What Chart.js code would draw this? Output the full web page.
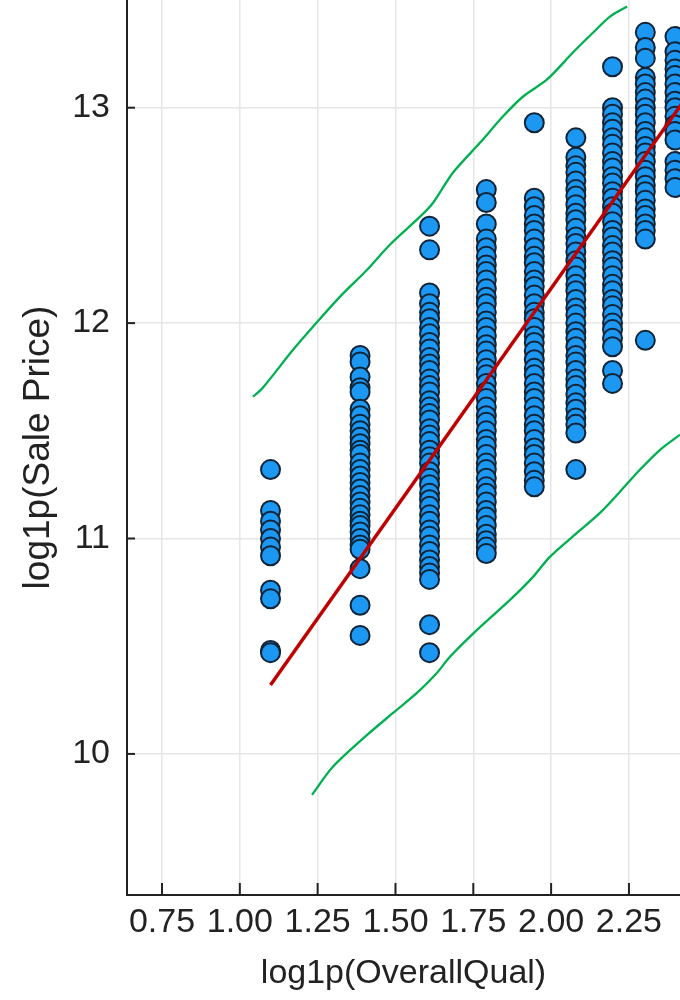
<!DOCTYPE html>
<html>
<head>
<meta charset="utf-8">
<script src="https://cdn.jsdelivr.net/npm/chart.js@4.4.0/dist/chart.umd.min.js"></script>
<style>
  body { margin: 0; background: #fff; }
  canvas { display: block; }
</style>
</head>
<body>
<canvas id="qualChart" width="680" height="1000"></canvas>
<script>
// OverallQual levels present in the picture (plotted as log1p)
var qualLevels = [2, 3, 4, 5, 6, 7, 8, 9, 10];

// log1p(SalePrice)
var priceQ2 = [11.32, 11.13, 11.08, 11.04, 11.00, 10.96, 10.92, 10.76, 10.72, 10.48, 10.47];
var priceQ3 = [11.85, 11.82, 11.75, 11.70, 11.68, 11.60, 11.57, 11.53, 11.50, 11.47, 11.44, 11.41,
               11.39, 11.35, 11.32, 11.29, 11.26, 11.23, 11.20, 11.17, 11.14, 11.11, 11.08, 11.06,
               11.03, 11.00, 10.97, 10.95, 10.86, 10.69, 10.55];
var priceQ4 = [12.45, 12.34, 12.14, 12.09, 12.05, 12.02, 11.98, 11.95, 11.91, 11.88, 11.84, 11.81,
               11.78, 11.74, 11.71, 11.68, 11.64, 11.61, 11.58, 11.55, 11.51, 11.48, 11.45, 11.41,
               11.38, 11.35, 11.31, 11.28, 11.25, 11.21, 11.18, 11.15, 11.11, 11.08, 11.04, 11.01,
               10.97, 10.94, 10.90, 10.87, 10.84, 10.81, 10.60, 10.47];
var priceQ5 = [12.62, 12.56, 12.46, 12.39, 12.35, 12.31, 12.27, 12.24, 12.20, 12.16, 12.12, 12.09,
               12.05, 12.01, 11.98, 11.94, 11.90, 11.87, 11.83, 11.79, 11.76, 11.72, 11.68, 11.65,
               11.61, 11.57, 11.54, 11.50, 11.46, 11.43, 11.39, 11.35, 11.32, 11.28, 11.24, 11.21,
               11.17, 11.13, 11.10, 11.06, 11.02, 10.99, 10.96, 10.93];
var priceQ6 = [12.93, 12.58, 12.54, 12.50, 12.46, 12.43, 12.39, 12.35, 12.31, 12.28, 12.24, 12.20,
               12.17, 12.13, 12.09, 12.05, 12.02, 11.98, 11.94, 11.91, 11.87, 11.83, 11.79, 11.76,
               11.72, 11.68, 11.65, 11.61, 11.57, 11.53, 11.50, 11.46, 11.42, 11.39, 11.35, 11.31,
               11.27, 11.24];
var priceQ7 = [12.86, 12.77, 12.73, 12.70, 12.66, 12.62, 12.59, 12.55, 12.51, 12.48, 12.44, 12.40,
               12.37, 12.33, 12.29, 12.26, 12.22, 12.18, 12.15, 12.11, 12.07, 12.04, 12.00, 11.96,
               11.93, 11.89, 11.85, 11.82, 11.78, 11.74, 11.71, 11.67, 11.63, 11.60, 11.56, 11.53,
               11.49, 11.32];
var priceQ8 = [13.19, 13.00, 12.97, 12.93, 12.90, 12.86, 12.83, 12.79, 12.75, 12.72, 12.68, 12.65,
               12.61, 12.58, 12.54, 12.51, 12.47, 12.43, 12.40, 12.36, 12.33, 12.29, 12.26, 12.22,
               12.18, 12.15, 12.11, 12.08, 12.04, 12.00, 11.97, 11.93, 11.89, 11.78, 11.72];
var priceQ9 = [13.35, 13.28, 13.23, 13.14, 13.11, 13.07, 13.04, 13.00, 12.97, 12.93, 12.89, 12.86,
               12.82, 12.79, 12.75, 12.71, 12.68, 12.64, 12.61, 12.57, 12.53, 12.50, 12.46, 12.43,
               12.39, 11.92];
var priceQ10 = [13.33, 13.26, 13.22, 13.18, 13.15, 13.11, 13.07, 13.03, 13.00, 12.96, 12.92, 12.89,
                12.85, 12.75, 12.71, 12.67, 12.63];
var pricesByQual = [priceQ2, priceQ3, priceQ4, priceQ5, priceQ6, priceQ7, priceQ8, priceQ9, priceQ10];

// fitted regression line (red)
var fitX = [1.0986, 2.45];
var fitY = [10.32, 13.08];

// hand-drawn prediction band (green)
var upperX = [1.042, 1.074, 1.171, 1.235, 1.322, 1.409, 1.482, 1.579, 1.621, 1.685, 1.772,
              1.845, 1.910, 1.987, 2.070, 2.135, 2.189, 2.244];
var upperY = [11.658, 11.700, 11.876, 11.983, 12.123, 12.248, 12.364, 12.494, 12.559, 12.699, 12.838,
              12.959, 13.052, 13.131, 13.256, 13.349, 13.423, 13.470];
var lowerX = [1.232, 1.299, 1.409, 1.492, 1.569, 1.633, 1.675, 1.762, 1.868, 1.942, 1.996,
              2.083, 2.157, 2.221, 2.285, 2.350, 2.414];
var lowerY = [9.810, 9.940, 10.088, 10.190, 10.283, 10.376, 10.451, 10.576, 10.715, 10.822, 10.915,
              11.026, 11.119, 11.217, 11.319, 11.412, 11.482];

// axis ticks
var xTicks = [0.75, 1.00, 1.25, 1.50, 1.75, 2.00, 2.25];
var yTicks = [10, 11, 12, 13];

function pairs(xs, ys) {
    return xs.map(function (x, i) { return {x: x, y: ys[i]}; });
}

var scatterPoints = [];
qualLevels.forEach(function (q, i) {
    pricesByQual[i].forEach(function (p) {
        scatterPoints.push({x: Math.log1p(q), y: p});
    });
});

var fontFamily = "'Liberation Sans', Arial, sans-serif";

// small tick marks pointing into the plot
var innerTicks = {
    id: 'innerTicks',
    afterDraw: function (chart) {
        var ctx = chart.ctx, area = chart.chartArea;
        var xs = chart.scales.x, ys = chart.scales.y;
        ctx.save();
        ctx.strokeStyle = '#222';
        ctx.lineWidth = 2;
        xs.ticks.forEach(function (t) {
            var px = xs.getPixelForValue(t.value);
            ctx.beginPath();
            ctx.moveTo(px, area.bottom);
            ctx.lineTo(px, area.bottom - 12);
            ctx.stroke();
        });
        ys.ticks.forEach(function (t) {
            var py = ys.getPixelForValue(t.value);
            ctx.beginPath();
            ctx.moveTo(area.left, py);
            ctx.lineTo(area.left + 8, py);
            ctx.stroke();
        });
        ctx.restore();
    }
};

var ctx = document.getElementById('qualChart').getContext('2d');
var chart = new Chart(ctx, {
    type: 'scatter',
    data: {
        datasets: [
            {
                type: 'line',
                label: 'fit',
                data: pairs(fitX, fitY),
                borderColor: '#c00000',
                borderWidth: 3.5,
                pointRadius: 0,
                fill: false,
                order: 0
            },
            {
                type: 'line',
                label: 'upper',
                data: pairs(upperX, upperY),
                borderColor: '#00b050',
                borderWidth: 2.3,
                pointRadius: 0,
                tension: 0.3,
                fill: false,
                order: 1
            },
            {
                type: 'line',
                label: 'lower',
                data: pairs(lowerX, lowerY),
                borderColor: '#00b050',
                borderWidth: 2.3,
                pointRadius: 0,
                tension: 0.3,
                fill: false,
                order: 1
            },
            {
                label: 'houses',
                data: scatterPoints,
                pointRadius: 9.5,
                backgroundColor: '#1c98f2',
                borderColor: '#0f2438',
                borderWidth: 2,
                order: 2
            }
        ]
    },
    options: {
        responsive: false,
        animation: false,
        events: [],
        layout: { padding: 0, autoPadding: false },
        plugins: {
            legend: { display: false },
            tooltip: { enabled: false }
        },
        scales: {
            x: {
                type: 'linear',
                min: 0.6376,
                max: 2.414,
                afterBuildTicks: function (s) {
                    s.ticks = xTicks.map(function (v) { return {value: v}; });
                },
                afterFit: function (s) {
                    s.height = 105;
                    s.paddingLeft = 0;
                    s.paddingRight = 0;
                },
                grid: { color: '#e6e6e6', lineWidth: 1.5, drawTicks: false },
                border: { display: true, color: '#222', width: 2 },
                ticks: {
                    padding: 7,
                    color: '#222',
                    font: { family: fontFamily, size: 34 },
                    callback: function (v) { return Number(v).toFixed(2); }
                },
                title: {
                    display: true,
                    text: 'log1p(OverallQual)',
                    color: '#222',
                    font: { family: fontFamily, size: 34 },
                    padding: { top: 0, bottom: 6 }
                }
            },
            y: {
                type: 'linear',
                min: 9.345,
                max: 13.50,
                afterBuildTicks: function (s) {
                    s.ticks = yTicks.map(function (v) { return {value: v}; });
                },
                afterFit: function (s) {
                    s.width = 127;
                    s.paddingTop = 0;
                    s.paddingBottom = 0;
                },
                grid: { color: '#e6e6e6', lineWidth: 1.5, drawTicks: false },
                border: { display: true, color: '#222', width: 2 },
                ticks: {
                    padding: 17,
                    color: '#222',
                    font: { family: fontFamily, size: 34 }
                },
                title: {
                    display: true,
                    text: 'log1p(Sale Price)',
                    color: '#222',
                    font: { family: fontFamily, size: 37 },
                    padding: { top: 17, bottom: 0 }
                }
            }
        }
    },
    plugins: [innerTicks]
});
</script>
</body>
</html>
